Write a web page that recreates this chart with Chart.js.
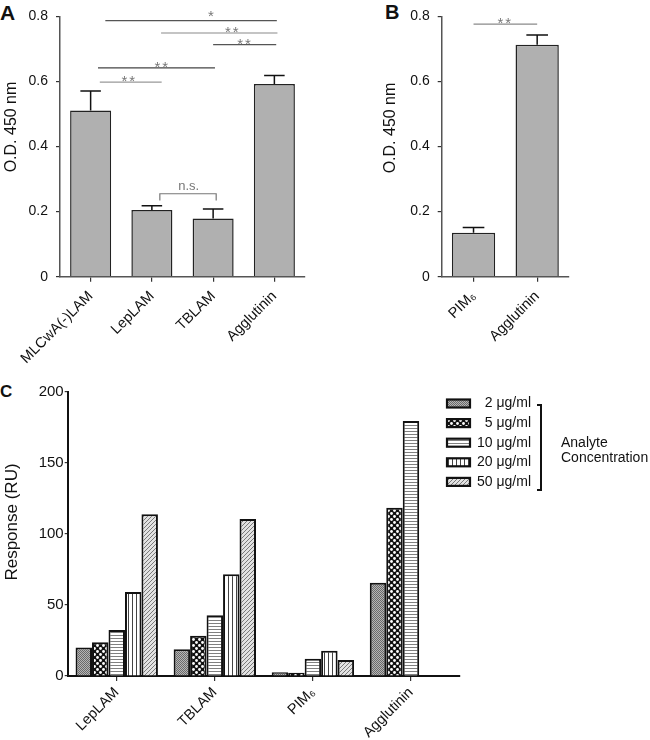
<!DOCTYPE html>
<html>
<head>
<meta charset="utf-8">
<script src="https://cdn.jsdelivr.net/npm/chart.js"></script>
<style>
  body { margin:0; width:650px; height:740px; background:#fff; position:relative; overflow:hidden; font-family:"Liberation Sans", Arial, sans-serif; }
  .panel { position:absolute; }
  .letter { position:absolute; font-weight:bold; line-height:1; color:#111; }
</style>
</head>
<body>
<div class="letter" style="left:0;top:2px;font-size:21px;">A</div>
<div class="letter" style="left:385px;top:2px;font-size:20px;">B</div>
<div class="letter" style="left:0;top:383px;font-size:17px;">C</div>
<canvas id="chartA" class="panel" width="330" height="370" style="left:0;top:0;"></canvas>
<canvas id="chartB" class="panel" width="290" height="370" style="left:360px;top:0;"></canvas>
<canvas id="chartC" class="panel" width="650" height="360" style="left:0;top:380px;"></canvas>
<script>
// panel A - ELISA
const catsA = ['MLCwA(-)LAM', 'LepLAM', 'TBLAM', 'Agglutinin'];
const meanA = [0.511, 0.205, 0.179, 0.592];
const errA = [0.060, 0.013, 0.029, 0.026];
// significance bars, x in category units, y in O.D.
const sigA = [
  {x1: 0.24, x2: 3.04, y: 0.787, tx: 1.98, label: '*',  color: '#555'},
  {x1: 1.15, x2: 3.05, y: 0.749, tx: 2.32, label: '**', color: '#8a8a8a'},
  {x1: 2.00, x2: 3.03, y: 0.713, tx: 2.52, label: '**', color: '#555'},
  {x1: 0.12, x2: 2.03, y: 0.642, tx: 1.17, label: '**', color: '#444'},
  {x1: 0.15, x2: 1.16, y: 0.598, tx: 0.63, label: '**', color: '#999'}
];
const bracketA = [{x1: 1.13, x2: 2.05, y: 0.255, yEnd: 0.234, tx: 1.60, label: 'n.s.', color: '#777'}];

// panel B
const catsB = ['PIM₆', 'Agglutinin'];
const meanB = [0.135, 0.713];
const errB = [0.016, 0.030];
const sigB = [{x1: 0.0, x2: 1.0, y: 0.776, tx: 0.5, label: '**', color: '#8a8a8a'}];

// panel C - SPR response
const catsC = ['LepLAM', 'TBLAM', 'PIM₆', 'Agglutinin'];
const concLabels = ['2 μg/ml', '5 μg/ml', '10 μg/ml', '20 μg/ml', '50 μg/ml'];
const resp2  = [20.0, 18.8, 2.6, 65.7];
const resp5  = [23.7, 28.4, 2.3, 118.5];
const resp10 = [32.4, 42.7, 12.2, 179.6];
const resp20 = [59.2, 71.6, 17.8, null];
const resp50 = [113.9, 110.6, 11.3, null];

const fam = '"Liberation Sans", Arial, sans-serif';
Chart.defaults.font.family = fam;
Chart.defaults.color = '#111';

function makePattern(w, h, draw) {
  const c = document.createElement('canvas');
  c.width = w; c.height = h;
  const g = c.getContext('2d');
  draw(g, w, h);
  return g.createPattern(c, 'repeat');
}
const patterns = [
  makePattern(2, 2, g => { g.fillStyle = '#b5b5b5'; g.fillRect(0, 0, 2, 2); g.fillStyle = '#6a6a6a'; g.fillRect(0, 0, 1, 1); g.fillRect(1, 1, 1, 1); }),
  makePattern(6, 6, g => { g.fillStyle = '#111'; g.fillRect(0, 0, 6, 6); g.fillStyle = '#fff';
    [[1.5, 1.5], [4.5, 4.5]].forEach(p => { g.beginPath(); g.arc(p[0], p[1], 1.4, 0, Math.PI * 2); g.fill(); }); }),
  makePattern(1, 3, g => { g.fillStyle = '#fff'; g.fillRect(0, 0, 1, 3); g.fillStyle = '#808080'; g.fillRect(0, 0, 1, 1); }),
  makePattern(4, 1, g => { g.fillStyle = '#fff'; g.fillRect(0, 0, 4, 1); g.fillStyle = '#444'; g.fillRect(0, 0, 1, 1); }),
  makePattern(4, 4, g => { g.fillStyle = '#e2e2e2'; g.fillRect(0, 0, 4, 4); g.strokeStyle = '#7a7a7a'; g.lineWidth = 1;
    g.beginPath(); g.moveTo(-1, 5); g.lineTo(5, -1); g.moveTo(-1, 1); g.lineTo(1, -1); g.moveTo(3, 5); g.lineTo(5, 3); g.stroke(); })
];

// error bars (upper only) + significance marks + axis title
const extras = {
  id: 'extras',
  afterDatasetsDraw(chart, args, o) {
    const ctx = chart.ctx, xs = chart.scales.x, ys = chart.scales.y;
    ctx.save();
    if (o.err) {
      const meta = chart.getDatasetMeta(0);
      const vals = chart.data.datasets[0].data;
      ctx.strokeStyle = '#111'; ctx.lineWidth = 1.5;
      meta.data.forEach((bar, i) => {
        const yTop = ys.getPixelForValue(vals[i] + o.err[i]);
        const half = bar.width / 4;
        ctx.beginPath();
        ctx.moveTo(bar.x, bar.y); ctx.lineTo(bar.x, yTop);
        ctx.moveTo(bar.x - half, yTop); ctx.lineTo(bar.x + half, yTop);
        ctx.stroke();
      });
    }
    (o.sig || []).forEach(s => {
      const y = ys.getPixelForValue(s.y);
      ctx.strokeStyle = s.color; ctx.lineWidth = 1.2;
      ctx.beginPath(); ctx.moveTo(xs.getPixelForValue(s.x1), y); ctx.lineTo(xs.getPixelForValue(s.x2), y); ctx.stroke();
      ctx.fillStyle = '#777'; ctx.font = '15px ' + fam; ctx.textAlign = 'center'; ctx.textBaseline = 'alphabetic';
      ctx.letterSpacing = '2px';
      ctx.fillText(s.label, xs.getPixelForValue(s.tx), y + (s.label === '*' ? 0 : 4));
      ctx.letterSpacing = '0px';
    });
    (o.brackets || []).forEach(s => {
      const y = ys.getPixelForValue(s.y), y2 = ys.getPixelForValue(s.yEnd);
      const a = xs.getPixelForValue(s.x1), b = xs.getPixelForValue(s.x2);
      ctx.strokeStyle = s.color; ctx.lineWidth = 1.2;
      ctx.beginPath(); ctx.moveTo(a, y2); ctx.lineTo(a, y); ctx.lineTo(b, y); ctx.lineTo(b, y2); ctx.stroke();
      ctx.fillStyle = '#777'; ctx.font = '13px ' + fam; ctx.textAlign = 'center';
      ctx.fillText(s.label, xs.getPixelForValue(s.tx), y - 4);
    });
    if (o.title) {
      ctx.fillStyle = '#111'; ctx.font = o.title.size + 'px ' + fam;
      ctx.textAlign = 'center'; ctx.textBaseline = 'middle';
      ctx.translate(o.title.x, o.title.y); ctx.rotate(-Math.PI / 2);
      ctx.fillText(o.title.text, 0, 0);
    }
    ctx.restore();
  }
};

// legend of panel C with bracket
const concLegend = {
  id: 'concLegend',
  afterDraw(chart, args, o) {
    if (!o.show) return;
    const ctx = chart.ctx;
    ctx.save();
    chart.data.datasets.forEach((ds, i) => {
      const cy = 23.5 + i * 19.6;
      ctx.fillStyle = ds.backgroundColor;
      ctx.fillRect(446, cy - 4, 25, 8);
      ctx.strokeStyle = '#111'; ctx.lineWidth = 2.2;
      ctx.strokeRect(447, cy - 4, 23, 8);
      ctx.fillStyle = '#111'; ctx.font = '14px ' + fam; ctx.textAlign = 'right'; ctx.textBaseline = 'middle';
      ctx.fillText(ds.label, 531, cy);
    });
    ctx.strokeStyle = '#111'; ctx.lineWidth = 2;
    ctx.beginPath(); ctx.moveTo(537, 25); ctx.lineTo(541, 25); ctx.lineTo(541, 110); ctx.lineTo(537, 110); ctx.stroke();
    ctx.fillStyle = '#111'; ctx.font = '14px ' + fam; ctx.textAlign = 'left'; ctx.textBaseline = 'alphabetic';
    ctx.fillText('Analyte', 561, 66.5);
    ctx.fillText('Concentration', 561, 81.5);
    ctx.restore();
  }
};

function axes(o) {
  return {
    x: {
      grid: { drawOnChartArea: false, offset: false, tickLength: 5, color: '#333', lineWidth: 1.2 },
      border: { color: o.axisColor, width: o.axisWidth },
      ticks: { maxRotation: 45, minRotation: 45, autoSkip: false, font: { size: o.xsize }, color: '#111', padding: o.xp },
      afterFit(s) { s.height = o.xh; }
    },
    y: {
      min: 0, max: o.max,
      grid: { drawOnChartArea: false, tickLength: o.tl, color: '#333', lineWidth: 1.2 },
      border: { color: o.axisColor, width: o.axisWidth },
      ticks: { stepSize: o.step, font: { size: o.tsize }, color: '#111', padding: o.tp },
      afterFit(s) { s.width = o.yw; }
    }
  };
}

const common = { responsive: false, animation: false, devicePixelRatio: 1 };

new Chart(document.getElementById('chartA'), {
  type: 'bar',
  data: { labels: catsA, datasets: [{ data: meanA, backgroundColor: '#b0b0b0', borderColor: '#222', borderWidth: 1.5, barPercentage: 0.67, categoryPercentage: 1 }] },
  options: Object.assign({}, common, {
    layout: { padding: { left: 0, right: 25, top: 8, bottom: 0 } },
    plugins: {
      legend: { display: false }, tooltip: { enabled: false },
      extras: { err: errA, sig: sigA, brackets: bracketA, title: { text: 'O.D. 450 nm', x: 11.5, y: 127, size: 16 } }
    },
    scales: axes({ max: 0.8, step: 0.2, xh: 93.3, yw: 60, tl: 4, tp: 8, tsize: 14, xsize: 14.5, xp: 6, axisColor: '#555', axisWidth: 1.5 })
  }),
  plugins: [extras]
});

new Chart(document.getElementById('chartB'), {
  type: 'bar',
  data: { labels: catsB, datasets: [{ data: meanB, backgroundColor: '#b0b0b0', borderColor: '#222', borderWidth: 1.5, barPercentage: 0.68, categoryPercentage: 1 }] },
  options: Object.assign({}, common, {
    layout: { padding: { left: 0, right: 81, top: 5, bottom: 0 } },
    plugins: {
      legend: { display: false }, tooltip: { enabled: false },
      extras: { err: errB, sig: sigB, title: { text: 'O.D. 450 nm', x: 31, y: 128, size: 16 } }
    },
    scales: axes({ max: 0.8, step: 0.2, xh: 93.3, yw: 81.7, tl: 4, tp: 8, tsize: 14, xsize: 14.5, xp: 6, axisColor: '#555', axisWidth: 1.5 })
  }),
  plugins: [extras]
});

const respSeries = [resp2, resp5, resp10, resp20, resp50];
new Chart(document.getElementById('chartC'), {
  type: 'bar',
  data: {
    labels: catsC,
    datasets: respSeries.map((d, i) => ({
      label: concLabels[i], data: d, backgroundColor: patterns[i], borderColor: '#111', borderWidth: 2,
      barPercentage: 1, categoryPercentage: 0.84
    }))
  },
  options: Object.assign({}, common, {
    layout: { padding: { left: 0, right: 190, top: 12, bottom: 0 } },
    plugins: {
      legend: { display: false }, tooltip: { enabled: false },
      extras: { title: { text: 'Response (RU)', x: 12, y: 142, size: 17 } },
      concLegend: { show: true }
    },
    scales: axes({ max: 200, step: 50, xh: 64, yw: 67.7, tl: 3, tp: 1, tsize: 15, xsize: 14.5, xp: 3, axisColor: '#111', axisWidth: 2 })
  }),
  plugins: [extras, concLegend]
});
</script>
</body>
</html>
